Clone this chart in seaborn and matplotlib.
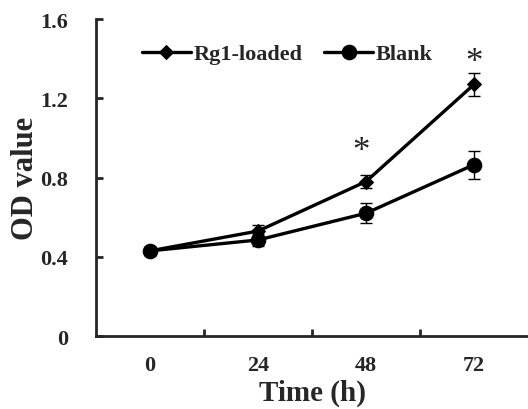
import numpy as np
import pandas as pd
import seaborn as sns
import matplotlib
matplotlib.use("Agg")
import matplotlib.pyplot as plt

times = ["0", "24", "48", "72"]
rg1_mean = [0.43, 0.53, 0.78, 1.27]
rg1_err = [0.02, 0.03, 0.035, 0.06]
blank_mean = [0.43, 0.485, 0.62, 0.865]
blank_err = [0.02, 0.03, 0.05, 0.07]
star_pos = [2, 3]
star_y = [0.93, 1.38]

sns.set_style("ticks")
plt.rcParams['font.family'] = ['Liberation Serif', 'DejaVu Serif']
plt.rcParams['font.weight'] = 'bold'

pos = np.arange(len(times))
df = pd.DataFrame({
    'pos': np.concatenate([pos, pos]),
    'od': rg1_mean + blank_mean,
    'group': ['Rg1-loaded'] * len(times) + ['Blank'] * len(times),
})

fig = plt.figure(figsize=(5.28, 4.10), dpi=100)
ax = fig.add_axes([0.182, 0.178, 0.818, 0.773])

ax.errorbar(pos, rg1_mean, yerr=rg1_err, fmt='none', ecolor='black',
            elinewidth=1, capsize=4, capthick=1, zorder=2)
ax.errorbar(pos, blank_mean, yerr=blank_err, fmt='none', ecolor='black',
            elinewidth=1, capsize=4, capthick=1, zorder=2)

sns.lineplot(data=df, x='pos', y='od', hue='group', style='group',
             markers={'Rg1-loaded': 'D', 'Blank': 'o'}, dashes=False,
             palette={'Rg1-loaded': 'black', 'Blank': 'black'},
             linewidth=2.4, markersize=9, markeredgecolor='black',
             ax=ax, zorder=3)
for line in ax.get_lines():
    if line.get_marker() == 'D':
        line.set_markersize(7.5)
    elif line.get_marker() == 'o':
        line.set_markersize(10.5)

for p, y in zip(star_pos, star_y):
    ax.text(p - 0.05 if p == 2 else p, y, '*', ha='center', va='center',
            fontsize=25, fontweight='normal')

ax.set_xlim(-0.5, 3.5)
ax.set_ylim(0, 1.6)
ax.set_yticks([0, 0.4, 0.8, 1.2, 1.6])
ax.set_yticklabels(['0', '0.4', '0.8', '1.2', '1.6'])
ax.set_xticks(pos)
ax.set_xticklabels(times)
ax.set_xticks([0.5, 1.5, 2.5], minor=True)
ax.tick_params(axis='x', which='major', length=0, pad=14, labelsize=16)
ax.tick_params(axis='x', which='minor', length=5, width=2, direction='in')
ax.tick_params(axis='y', length=5, width=2, direction='in', pad=20, labelsize=16)
for lab in ax.get_xticklabels() + ax.get_yticklabels():
    lab.set_fontweight('bold')

ax.set_xlabel('Time (h)', fontsize=21, fontweight='bold', labelpad=2)
ax.set_ylabel('OD value', fontsize=22, fontweight='bold', labelpad=0)

sns.despine(ax=ax)
ax.spines['left'].set_linewidth(2)
ax.spines['bottom'].set_linewidth(2)

handles, labels = ax.get_legend_handles_labels()
ax.legend(handles, labels, loc='upper left', bbox_to_anchor=(0.06, 0.985),
          ncol=2, frameon=False, handlelength=2.2,
          handletextpad=0.1, columnspacing=1.0, prop={'weight': 'bold', 'size': 16})

fig.savefig('out.png', dpi=100)
